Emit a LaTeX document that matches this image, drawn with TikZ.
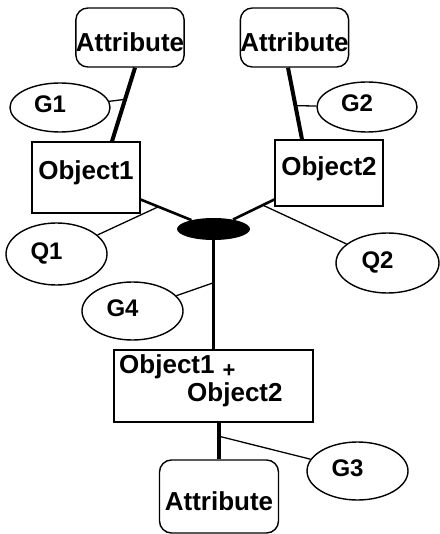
\documentclass[tikz,border=0pt]{standalone}
\usepackage{fontspec}
\setmainfont{Liberation Sans}
\usetikzlibrary{shapes.geometric}

\begin{document}
\begin{tikzpicture}[x=1pt,y=-1pt,
	font=\fontsize{26}{30}\selectfont\bfseries,
	attr/.style={shape=rectangle,rounded corners=12pt,draw=black,line width=1.4pt,inner sep=0pt,text height=28pt,text depth=0pt},
	obj/.style={shape=rectangle,draw=black,line width=1.4pt,inner sep=0pt,text height=18pt,text depth=13pt},
	gen/.style={shape=ellipse,draw=black,line width=1.4pt,inner sep=0pt,text width=52pt,align=left,text height=17pt,text depth=7pt,font=\fontsize{24}{28}\selectfont\bfseries},
	heavy/.style={line width=4pt},
	medium/.style={line width=2.6pt},
	link/.style={line width=1.3pt}]

	\useasboundingbox (0,0) rectangle (439,534);

	% attributes
	\node[attr,minimum width=104pt,minimum height=59pt] (attrA) at (130,37.5)  {Attribute};
	\node[attr,minimum width=105pt,minimum height=59pt] (attrB) at (294.5,37.5) {Attribute};
	\node[attr,minimum width=119pt,minimum height=73pt] (attrC) at (219,496.5)  {Attribute};

	% objects
	\node[obj,minimum width=108pt,minimum height=71pt] (objA) at (86,177.5) {Object1};
	\node[obj,minimum width=108pt,minimum height=66pt] (objB) at (329,173)  {Object2};
	\node[obj,minimum width=199pt,minimum height=72pt] (comb) at (213.5,386) {};
	\node[anchor=base west,inner sep=0pt] (combA) at (119,373) {Object1};
	\node[inner sep=0pt,font=\fontsize{22}{24}\selectfont\bfseries] (plus) at (229,371) {+};
	\node[anchor=base west,inner sep=0pt] (combB) at (187,401) {Object2};

	% junction
	\node[shape=ellipse,fill=black,inner sep=0pt,minimum width=73pt,minimum height=22pt] (hub) at (213.5,229) {};

	% labels
	\node[gen,minimum width=100pt,minimum height=49pt] (g1) at (60,107.5)  {G1};
	\node[gen,minimum width=100pt,minimum height=50pt] (g2) at (367,107)   {G2};
	\node[gen,minimum width=101pt,minimum height=62pt] (q1) at (56.5,254)  {Q1};
	\node[gen,minimum width=103pt,minimum height=60pt] (q2) at (387.5,263) {Q2};
	\node[gen,minimum width=101pt,minimum height=58pt] (g4) at (132.5,311) {G4};
	\node[gen,minimum width=101pt,minimum height=58pt] (g3) at (357.5,471) {G3};

	\draw[heavy] ([xshift=5pt]attrA.south) -- ([xshift=26pt]objA.north) coordinate[pos=0.43] (g1p);
	\draw[heavy] ([xshift=-6.5pt]attrB.south) -- ([xshift=-27pt]objB.north) coordinate[pos=0.53] (g2p);
	\draw[medium] (objA) -- (hub) coordinate[pos=0.35] (q1p);
	\draw[medium] (objB) -- (hub) coordinate[pos=0.28] (q2p);
	\draw[medium] (hub.south) -- (comb.north) coordinate[pos=0.39] (g4p);
	\draw[heavy] ([xshift=5.5pt]comb.south) -- (attrC.north) coordinate[pos=0.37] (g3p);

	\draw[link] (g1) -- (g1p);
	\draw[link] (g2) -- (g2p);
	\draw[link] (q1) -- (q1p);
	\draw[link] (q2) -- (q2p);
	\draw[link] (g4) -- (g4p);
	\draw[link] (g3) -- (g3p);

\end{tikzpicture}
\end{document}
